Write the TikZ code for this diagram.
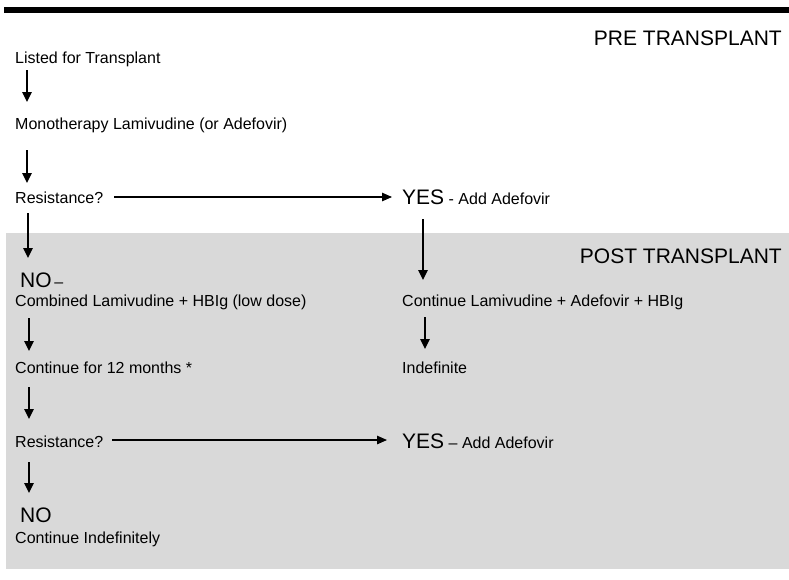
\documentclass[tikz,border=0pt]{standalone}
\usepackage{fontspec}
\setmainfont{Liberation Sans}
\usetikzlibrary{arrows.meta}
\newcommand{\smalltxt}{\fontsize{16}{19}\selectfont}
\newcommand{\bigtxt}{\fontsize{21}{24}\selectfont}
\begin{document}
\begin{tikzpicture}[x=1pt,y=-1pt,
  txt/.style={inner sep=0pt,anchor=base west,font=\smalltxt},
  head/.style={inner sep=0pt,anchor=base east,font=\bigtxt},
  arr/.style={line width=1.3pt,-{Triangle[length=10pt,width=9.5pt]}},
  harr/.style={line width=1.1pt,-{Triangle[length=10pt,width=8.5pt]}}]
\useasboundingbox (0,0) rectangle (789,579);
\fill[black!15] (6,233) rectangle (789,569);
\fill[black] (4,7) rectangle (789,13);
\node[head] (pre) at (782,45) {PRE TRANSPLANT};
\node[head] (post) at (782,263) {POST TRANSPLANT};
% left column
\node[txt] (listed) at (15,63) {Listed for Transplant};
\node[txt] (mono) at (15,129) {Monotherapy Lamivudine (or Adefovir)};
\node[txt] (res1) at (15,203) {Resistance?};
\node[txt] (no1) at (20,287) {{\bigtxt NO}\,–};
\node[txt] (comb) at (15,306) {Combined Lamivudine + HBIg (low dose)};
\node[txt] (cont12) at (15,373) {Continue for 12 months *};
\node[txt] (res2) at (15,447) {Resistance?};
\node[txt] (no2) at (20,522) {\bigtxt NO};
\node[txt] (contind) at (15,543) {Continue Indefinitely};
% right column
\node[txt] (yes1) at (402,204) {{\bigtxt YES} - Add Adefovir};
\node[txt] (contB) at (402,306) {Continue Lamivudine + Adefovir + HBIg};
\node[txt] (indef) at (402,373) {Indefinite};
\node[txt] (yes2) at (402,448) {{\bigtxt YES} – Add Adefovir};
% arrows
\draw[arr] ([xshift=12,yshift=-7]listed.base west) -- ([xshift=12,yshift=27]mono.base west);
\draw[arr] ([xshift=12,yshift=-21]mono.base west) -- ([xshift=12,yshift=20]res1.base west);
\draw[harr] ([xshift=11,yshift=6]res1.base east) -- ([xshift=-10,yshift=7]yes1.base west);
\draw[arr] ([xshift=21,yshift=-15]yes1.base west) -- ([xshift=21,yshift=26]contB.base west);
\draw[arr] ([xshift=13,yshift=-10]res1.base west) -- ([xshift=8,yshift=29]no1.base west);
\draw[arr] ([xshift=14,yshift=-12]comb.base west) -- ([xshift=14,yshift=22]cont12.base west);
\draw[arr] ([xshift=23,yshift=-11]contB.base west) -- ([xshift=23,yshift=24]indef.base west);
\draw[arr] ([xshift=14,yshift=-14]cont12.base west) -- ([xshift=14,yshift=28]res2.base west);
\draw[harr] ([xshift=9,yshift=7]res2.base east) -- ([xshift=-15,yshift=8]yes2.base west);
\draw[arr] ([xshift=14,yshift=-15]res2.base west) -- ([xshift=9,yshift=29]no2.base west);
\end{tikzpicture}
\end{document}
